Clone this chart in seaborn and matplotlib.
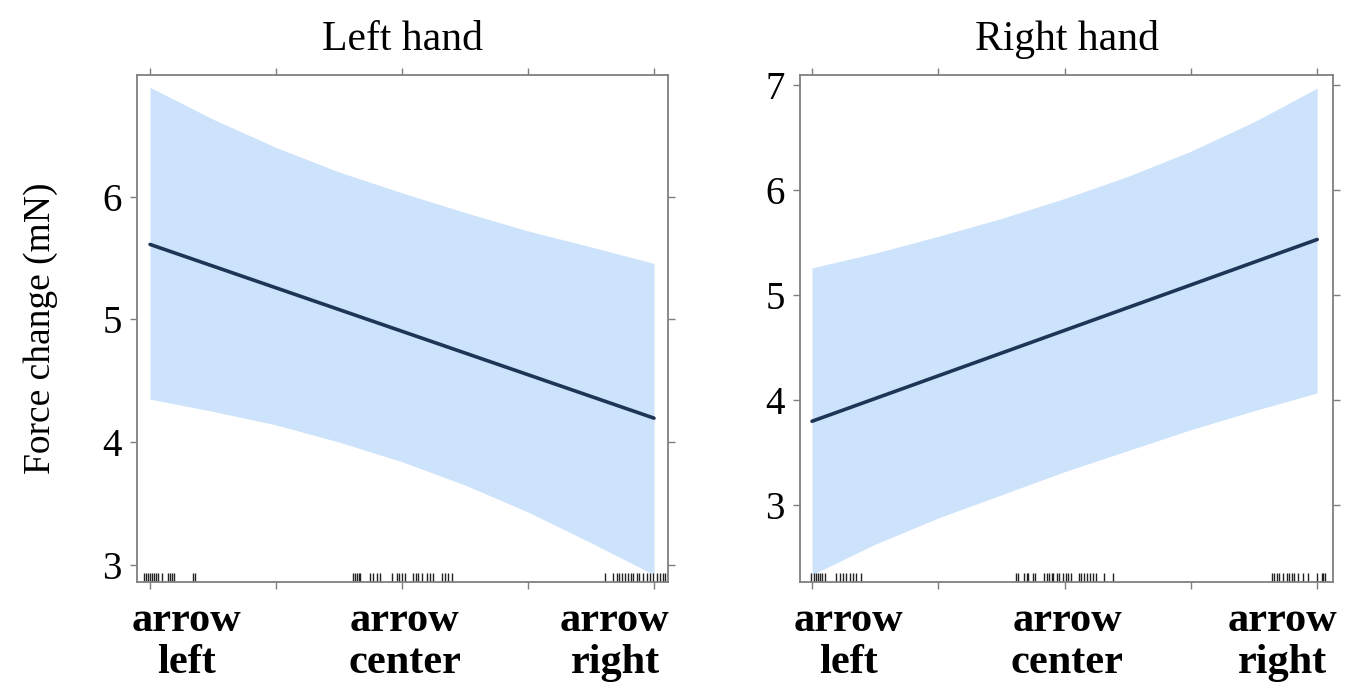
import matplotlib
matplotlib.use("Agg")
import matplotlib.pyplot as plt
import matplotlib.transforms as mtransforms
import numpy as np
import pandas as pd
import seaborn as sns

# ---------------- data ----------------
categories = ["arrow\nleft", "arrow\ncenter", "arrow\nright"]
titles = ["Left hand", "Right hand"]

band_x = [0, 0.25, 0.5, 0.75, 1.0, 1.25, 1.5, 1.75, 2.0]
left_upper = [6.89, 6.63, 6.40, 6.20, 6.03, 5.87, 5.72, 5.59, 5.455]
left_lower = [4.35, 4.25, 4.14, 4.00, 3.84, 3.65, 3.43, 3.18, 2.92]
right_upper = [5.26, 5.40, 5.56, 5.73, 5.92, 6.13, 6.37, 6.65, 6.97]
right_lower = [2.34, 2.63, 2.88, 3.10, 3.32, 3.52, 3.72, 3.90, 4.07]

line_x = [0, 2]
left_fit = [5.61, 4.195]
right_fit = [3.80, 5.53]

left_rug = [-0.024, -0.016, -0.008, 0.0, 0.008, 0.016, 0.024, 0.032, 0.048,
            0.071, 0.079, 0.087, 0.095, 0.171, 0.179,
            0.806, 0.813, 0.821, 0.829, 0.833, 0.873, 0.885, 0.901, 0.913,
            0.960, 0.980, 0.988, 1.0, 1.012, 1.044, 1.056, 1.063, 1.079,
            1.099, 1.111, 1.123, 1.159, 1.171, 1.183, 1.198,
            1.806, 1.837, 1.853, 1.861, 1.873, 1.885, 1.897, 1.909, 1.917,
            1.933, 1.940, 1.956, 1.972, 1.984, 1.996, 2.012, 2.024, 2.036, 2.044]
right_rug = [-0.004, 0.008, 0.016, 0.024, 0.032, 0.040, 0.051,
             0.095, 0.111, 0.123, 0.135, 0.150, 0.162, 0.174, 0.194,
             0.806, 0.814, 0.838, 0.850, 0.857, 0.873, 0.881, 0.917, 0.929,
             0.937, 0.949, 0.956, 0.968, 0.976, 0.992, 1.004, 1.012, 1.024,
             1.055, 1.063, 1.075, 1.087, 1.099, 1.111, 1.123, 1.155, 1.190,
             1.822, 1.830, 1.842, 1.850, 1.865, 1.881, 1.889, 1.901, 1.909,
             1.925, 1.945, 1.964, 2.0, 2.020, 2.024, 2.032]

# ---------------- style ----------------
sns.set_style("ticks")
plt.rcParams["font.family"] = ["Liberation Serif", "DejaVu Serif"]
plt.rcParams["text.color"] = "black"
plt.rcParams["axes.labelcolor"] = "black"
plt.rcParams["xtick.labelcolor"] = "black"
plt.rcParams["ytick.labelcolor"] = "black"

BAND = "#cce3fb"
LINE = "#1f3557"
SPINE = "#7f7f7f"

fig = plt.figure(figsize=(13.53, 6.87), dpi=100)
ax_l = fig.add_axes([0.1013, 0.1528, 0.3925, 0.738])
ax_r = fig.add_axes([0.5913, 0.1528, 0.394, 0.738])

panels = [
    (ax_l, left_upper, left_lower, left_fit, left_rug, (-0.0516, 2.056), (2.86, 6.99), [3, 4, 5, 6],
     [0.143, 1.01, 1.845]),
    (ax_r, right_upper, right_lower, right_fit, right_rug, (-0.0475, 2.063), (2.27, 7.095), [3, 4, 5, 6, 7],
     [0.143, 1.01, 1.861]),
]

for i, (ax, up, lo, fit, rug, xl, yl, yt, lab_x) in enumerate(panels):
    ax.fill_between(band_x, lo, up, color=BAND, lw=0, zorder=1)
    sns.lineplot(x=line_x, y=fit, ax=ax, color=LINE, lw=2.6, zorder=3)
    sns.rugplot(x=rug, ax=ax, height=0.017, color="#222222", lw=0.8, zorder=2)
    ax.set_xlim(*xl)
    ax.set_ylim(*yl)
    ax.set_xticks([0, 0.5, 1, 1.5, 2])
    ax.set_xticklabels([])
    ax.set_yticks(yt)
    ax.set_yticklabels([str(v) for v in yt], fontsize=28)
    ax.tick_params(axis="both", direction="out", length=5, width=1, color=SPINE,
                   top=True, right=True, bottom=True, left=True)
    ax.tick_params(axis="y", pad=6)
    for s in ax.spines.values():
        s.set_visible(True)
        s.set_color(SPINE)
        s.set_linewidth(1.3)
    ax.set_title(titles[i], fontsize=30, pad=18)
    trans = mtransforms.blended_transform_factory(ax.transData, ax.transAxes)
    for cx, lab in zip(lab_x, categories):
        ax.text(cx, -0.04, lab, transform=trans, ha="center", va="top",
                fontsize=30.5, fontweight="bold", linespacing=1.12)

ax_l.set_ylabel("Force change (mN)", fontsize=27, labelpad=32)
ax_r.set_ylabel("")

fig.savefig("out.png", dpi=100)
